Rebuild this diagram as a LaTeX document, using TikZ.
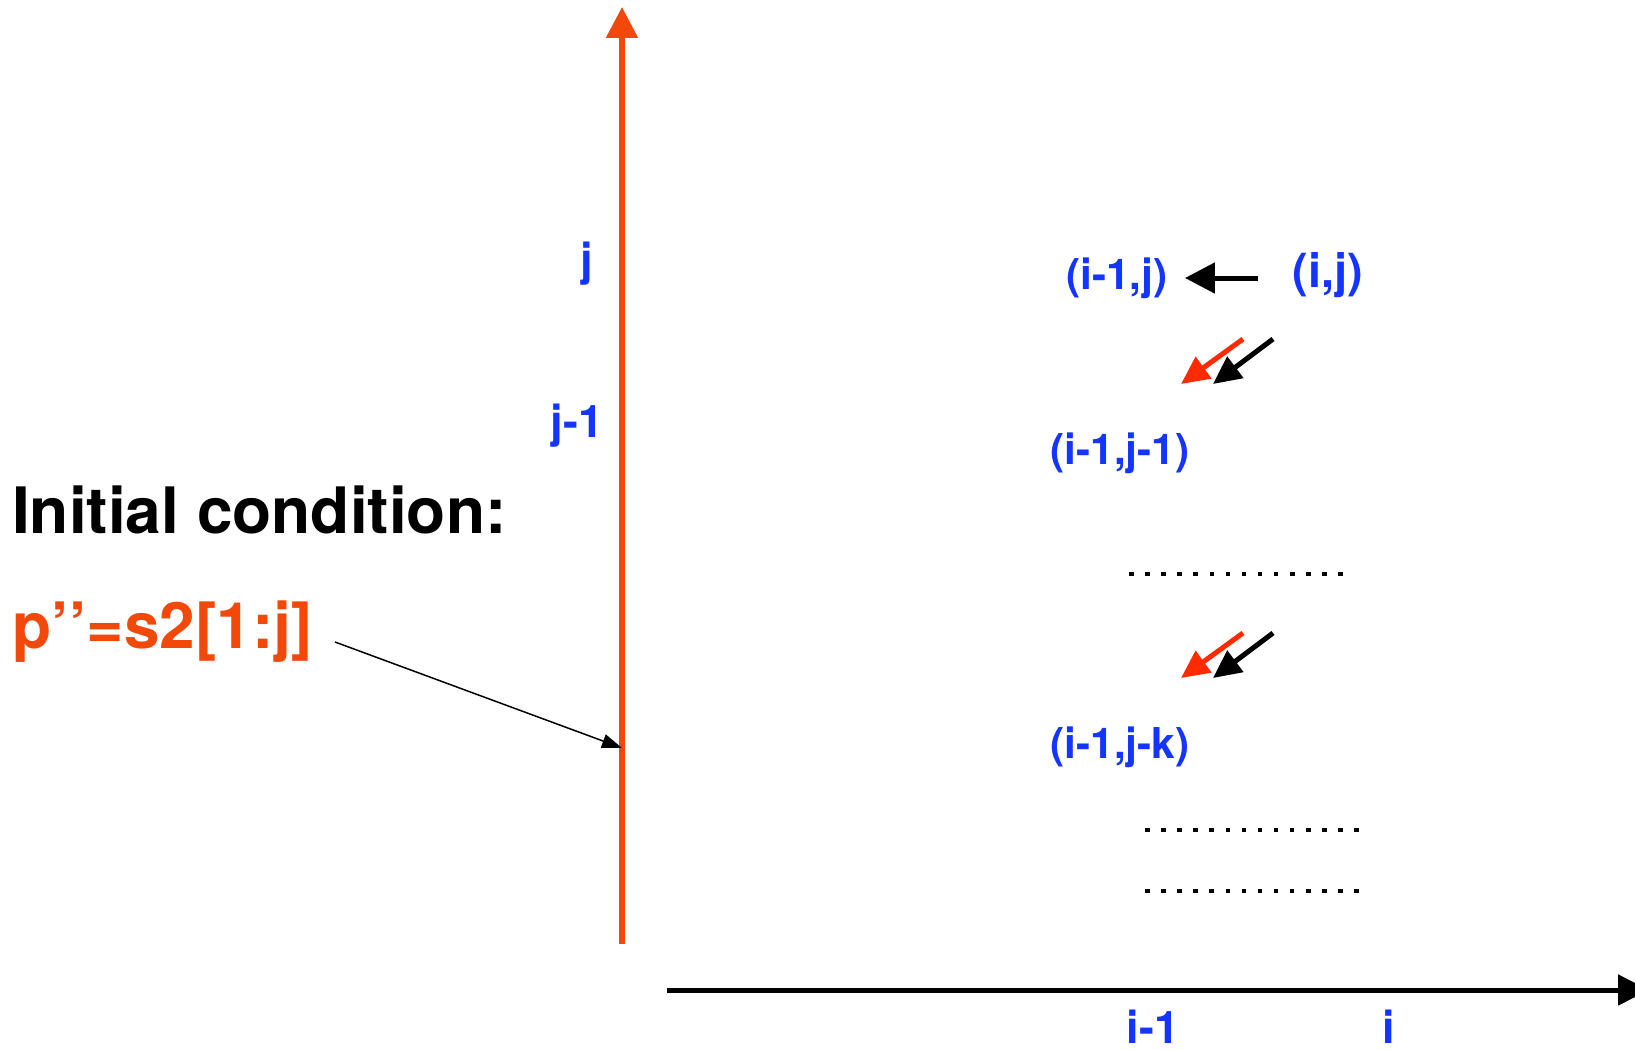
\documentclass[tikz,border=0pt]{standalone}
\usepackage{fontspec}
\setmainfont{TeX Gyre Heros}
\usetikzlibrary{arrows.meta}
\definecolor{axisorange}{RGB}{242,72,10}
\definecolor{stepred}{RGB}{255,42,0}
\definecolor{cellblue}{RGB}{20,52,255}

\begin{document}
\begin{tikzpicture}[
  x=1pt, y=-1pt,
  axis/.style={line width=5pt},
  cell/.style={text=cellblue, inner sep=0pt, font=\fontsize{42.5}{48}\selectfont\bfseries},
  bigcell/.style={cell, font=\fontsize{47}{52}\selectfont\bfseries},
  ticklabel/.style={text=cellblue, inner sep=0pt, font=\fontsize{45}{50}\selectfont\bfseries},
  condtext/.style={inner sep=0pt, anchor=base west, font=\fontsize{64}{70}\selectfont\bfseries},
  move/.style={-{Triangle[length=30pt,width=30pt]}, line width=5pt},
  diagmove/.style={-{Triangle[length=28pt,width=26pt]}, line width=5pt},
  dotrow/.style={line width=4.5pt, dash pattern=on 4.5pt off 11.6pt},
  pointer/.style={-{Triangle[length=20pt,width=14pt]}, line width=1.5pt},
]

\useasboundingbox (0,0) rectangle (1635,1049);

% -------------------------------------------------------------------------
% Axes: j grows upwards (orange), i grows to the right.
% -------------------------------------------------------------------------
\coordinate (yfoot) at (622,944);
\coordinate (ytip) at (622,7);
\coordinate (xfoot) at (667,990);
\coordinate (xtip) at (1649,990);
\draw[axis, axisorange, line width=5.5pt, -{Triangle[length=31pt,width=31pt]}]
  (yfoot) -- (ytip);
\draw[axis, -{Triangle[length=31pt,width=30pt]}] (xfoot) -- (xtip);

\node[ticklabel] (jtick) at (587,264) {j};
\node[ticklabel] (jmtick) at (577,426) {j-1};
\node[ticklabel, anchor=base] (imtick) at (1153,1043) {i-1};
\node[ticklabel, anchor=base] (itick) at (1389,1043) {i};

% -------------------------------------------------------------------------
% Cells of the table and the moves into (i,j).
% -------------------------------------------------------------------------
\node[cell] (up) at (1117,278) {(i-1,j)};
\node[bigcell] (cur) at (1328,275) {(i,j)};
\node[cell] (diag) at (1120,453) {(i-1,j-1)};
\node[cell] (diagk) at (1120,747) {(i-1,j-k)};

\draw[move, shorten <=35pt, shorten >=17pt] (cur.west |- up.east) -- (up.east);

% two diagonal moves, one red and one black, above each cell
\foreach \dy/\row in {0/one, 294/two} {
  \coordinate (redtail\row) at (1243,339+\dy);
  \coordinate (blacktail\row) at (1273,339+\dy);
  \draw[diagmove, stepred] (redtail\row) -- ++(-62,45);
  \draw[diagmove] (blacktail\row) -- ++(-60,45);
}

% dotted rows for the cells in between
\draw[dotrow] (1129,574) -- (1343,574);
\draw[dotrow] (1145,830) -- (1359,830);
\draw[dotrow] (1145,891) -- (1359,891);

% -------------------------------------------------------------------------
% Initial condition on the j axis.
% -------------------------------------------------------------------------
\node[condtext] (initcond) at (12,533) {Initial condition:};
\node[condtext, text=axisorange] (pinit) at (12,648) {p’’=s2[1:j]};
\coordinate (pstart) at (335,642);
\coordinate (yinit) at (622,748);
\draw[pointer] (pstart) -- (yinit);

\end{tikzpicture}
\end{document}
